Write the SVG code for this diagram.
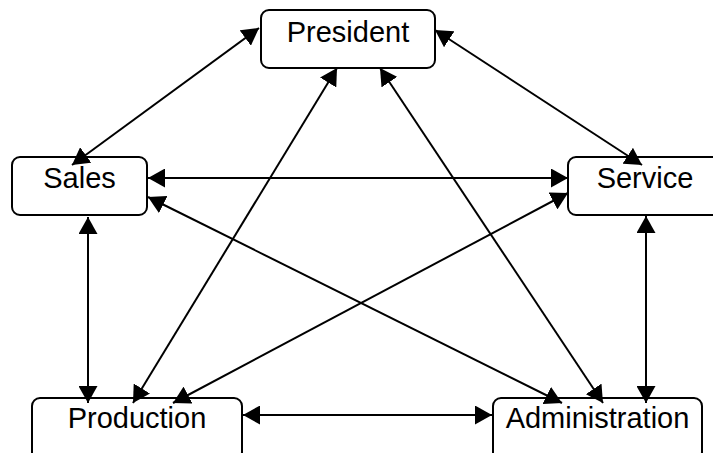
<svg xmlns="http://www.w3.org/2000/svg" width="713" height="453" viewBox="0 0 713 453">
<style>
.box{fill:#fff;stroke:#000;stroke-width:2}
.lbl{font-family:"Liberation Sans",Arial,sans-serif;font-size:29px;fill:#000;text-anchor:middle}
.c{stroke:#000;stroke-width:2;fill:none;marker-start:url(#ah);marker-end:url(#ah)}
</style>
<defs>
<marker id="ah" markerUnits="userSpaceOnUse" markerWidth="17" markerHeight="19" viewBox="0 0 17 19" refX="17" refY="9.5" orient="auto-start-reverse">
<path d="M0,0 L17,9.5 L0,19 z" fill="#000"/>
</marker>
</defs>
<rect width="713" height="453" fill="#fff"/>
<g id="president"><rect class="box" x="261" y="10" width="174" height="58" rx="8"/><text class="lbl" x="348" y="42">President</text></g>
<g id="sales"><rect class="box" x="12" y="157" width="135" height="58" rx="8"/><text class="lbl" x="79.5" y="188">Sales</text></g>
<g id="service"><rect class="box" x="568" y="157" width="154" height="58" rx="8"/><text class="lbl" x="645" y="188">Service</text></g>
<g id="production"><rect class="box" x="32" y="398" width="210" height="62" rx="8"/><text class="lbl" x="137" y="428">Production</text></g>
<g id="administration"><rect class="box" x="493" y="398" width="209" height="62" rx="8"/><text class="lbl" x="597.5" y="428">Administration</text></g>
<g id="connectors">
<line class="c" x1="259" y1="28" x2="72" y2="165"/>
<line class="c" x1="435" y1="30" x2="642" y2="165"/>
<line class="c" x1="337" y1="68" x2="133" y2="403"/>
<line class="c" x1="380" y1="68" x2="603" y2="403"/>
<line class="c" x1="148" y1="178" x2="568" y2="178"/>
<line class="c" x1="148" y1="197" x2="562" y2="403"/>
<line class="c" x1="568" y1="193" x2="173" y2="403"/>
<line class="c" x1="88" y1="217" x2="88" y2="403"/>
<line class="c" x1="646" y1="216" x2="646" y2="403"/>
<line class="c" x1="243" y1="415" x2="492" y2="415"/>
</g>
</svg>
